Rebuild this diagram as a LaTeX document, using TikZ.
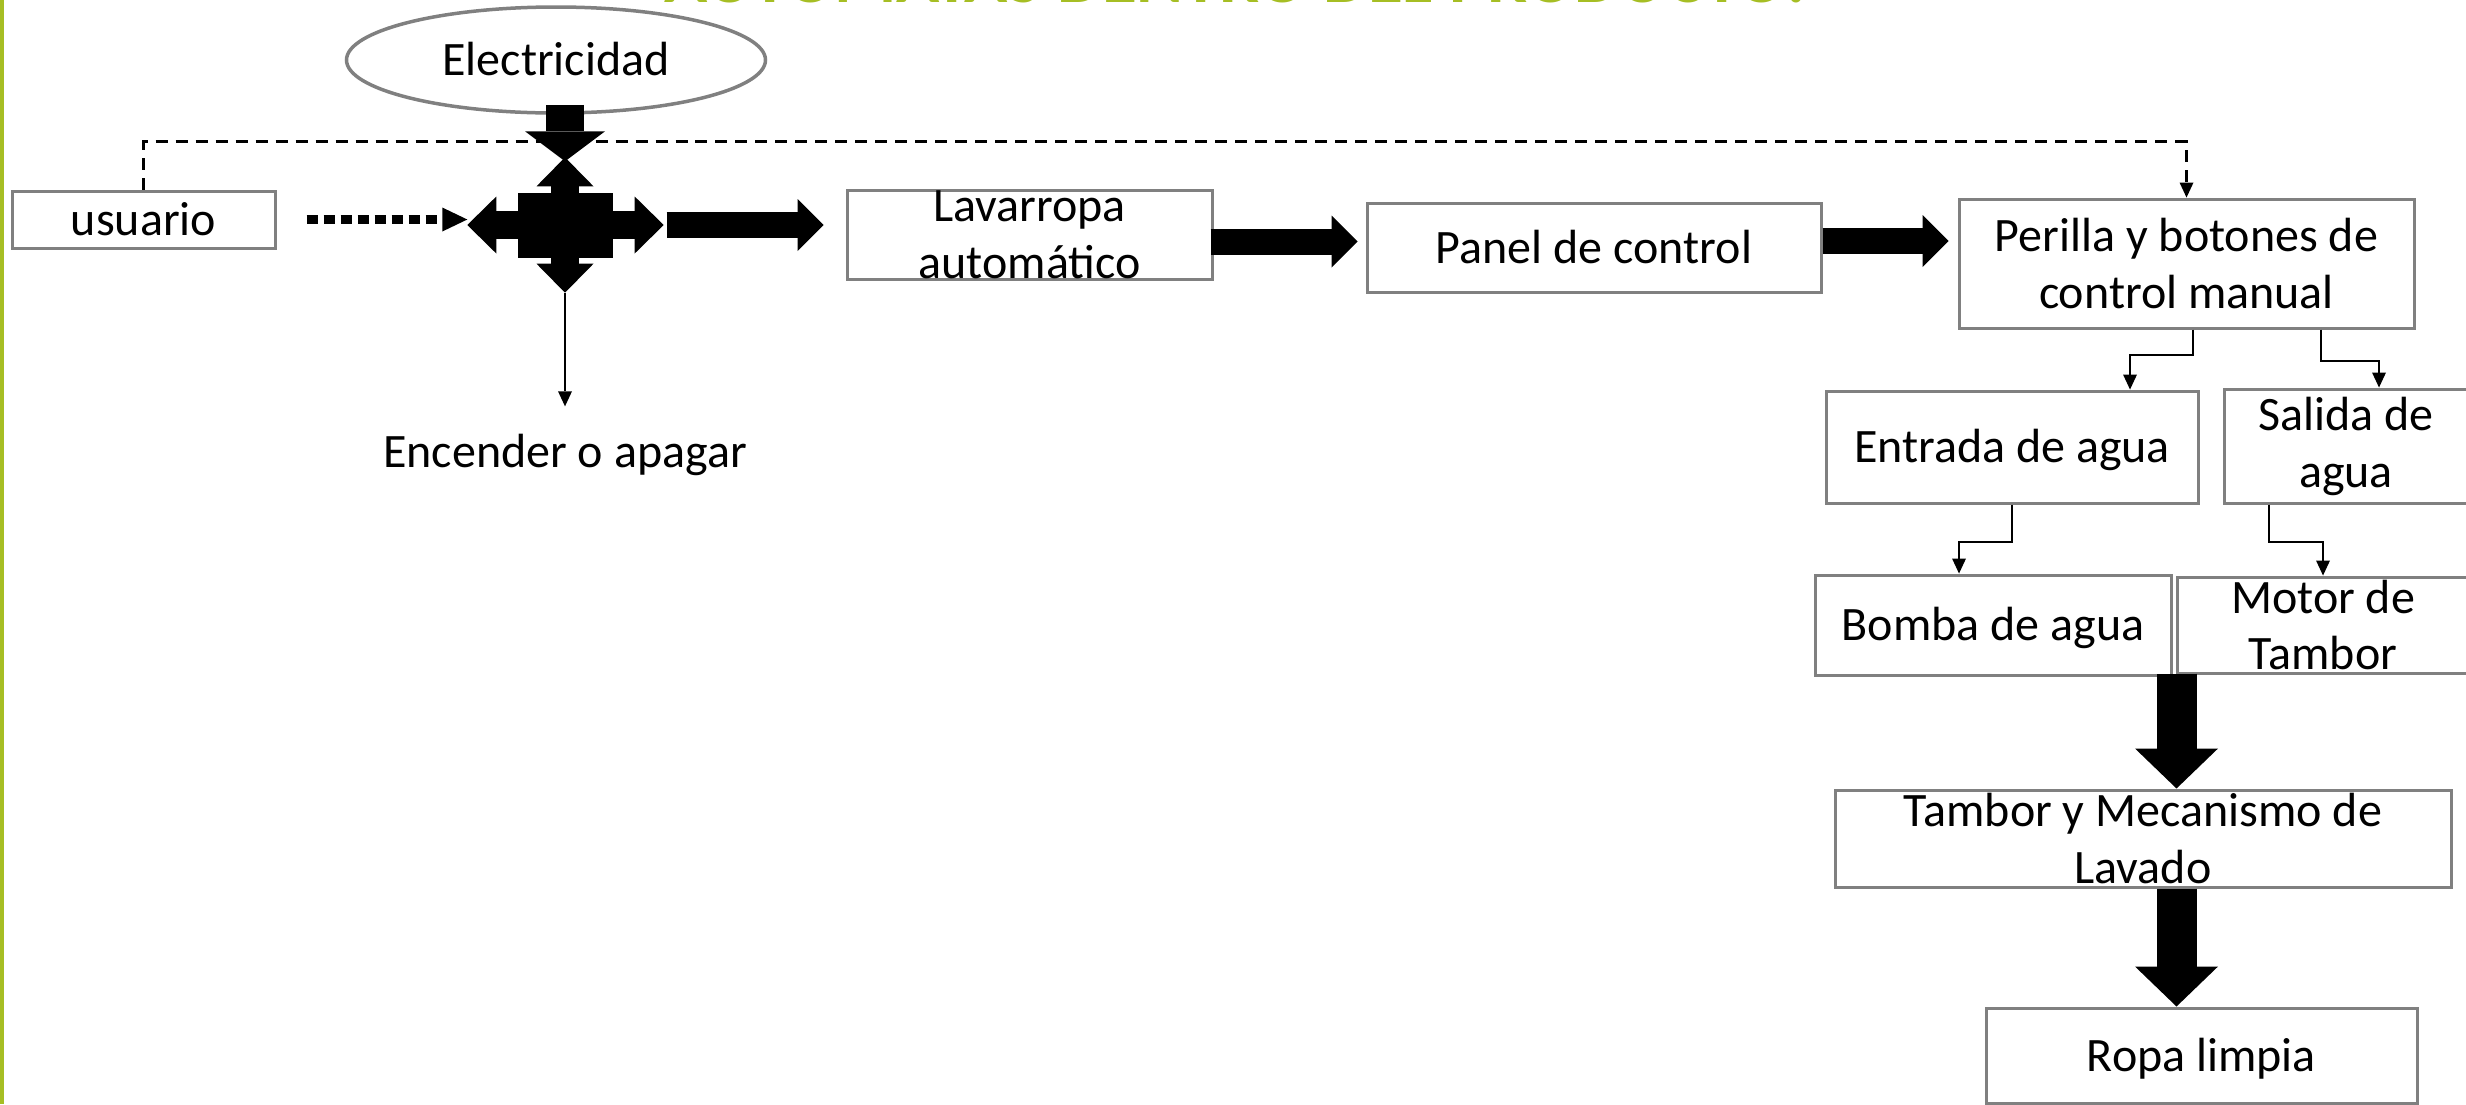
\documentclass[tikz,border=0pt]{standalone}
\usepackage{fontspec}
\setmainfont{Carlito}
\usetikzlibrary{arrows.meta,shapes.geometric}
\definecolor{slideGreen}{RGB}{166,190,36}
\definecolor{boxGray}{RGB}{128,128,128}

\tikzset{
  box/.style={draw=boxGray, line width=0.3mm, inner sep=0pt, align=center,
    font=\fontsize{13.66pt}{16.2pt}\selectfont},
  oneline/.style={text height=3.1mm, text depth=0pt},
  source/.style={ellipse, draw=boxGray, line width=0.35mm, inner sep=0pt,
    minimum width=41.9mm, minimum height=10.6mm, oneline,
    font=\fontsize{13.66pt}{16.2pt}\selectfont},
  caption/.style={inner sep=0pt, oneline, font=\fontsize{13.66pt}{16.2pt}\selectfont},
  heading/.style={text=slideGreen, inner sep=0pt,
    font=\fontsize{20.3pt}{24pt}\selectfont\bfseries},
  hub/.style={fill=black, minimum width=9.5mm, minimum height=6.5mm, inner sep=0pt},
  hubarm/.style={line width=2.8mm, -{Triangle[length=2.9mm, width=5.7mm, line width=0pt]}},
  feedarrow/.style={line width=3.8mm, -{Triangle[length=3mm, width=8mm, line width=0pt]}},
  blockarrow/.style={line width=2.6mm, -{Triangle[length=2.6mm, width=5.2mm, line width=0pt]}},
  bigarrow/.style={line width=4mm, -{Triangle[length=4mm, width=8.3mm, line width=0pt]}},
  dotarrow/.style={line width=0.85mm, dash pattern=on 1.1mm off 0.6mm,
    -{Triangle[length=2.5mm, width=2.4mm, line width=0pt]}},
  thinarrow/.style={line width=0.2mm, -{Triangle[length=1.5mm, width=1.4mm, line width=0pt]}},
  dashline/.style={thinarrow, line width=0.27mm, dash pattern=on 1.2mm off 0.8mm}
}

\begin{document}
\begin{tikzpicture}[x=0.1mm, y=-0.1mm]
\useasboundingbox (0,0) rectangle (2466,1104);

% slide edge and title (cut by the top of the page)
\fill[slideGreen] (0,0) rectangle (4,1104);
\node[heading, anchor=base] (ttl) at (1235,2.5) {AUTÓMATAS DENTRO DEL PRODUCTO:};

% power and user side
\node[source] (elec) at (556,60) {Electricidad};
\node[box, oneline, minimum width=26.3mm, minimum height=5.7mm] (usu) at (143.5,219.5) {usuario};
\node[hub] (hub) at (565,225) {};
\node[caption] (enc) at (565,452) {Encender o apagar};

% main chain
\node[box, minimum width=36.5mm, minimum height=8.9mm] (lav) at (1029.5,234.5) {Lavarropa\\automático};
\node[box, oneline, minimum width=45.4mm, minimum height=8.9mm] (pan) at (1594,247.5) {Panel de control};
\node[box, minimum width=45.5mm, minimum height=12.9mm] (peri) at (2186.5,263.5) {Perilla y botones de\\control manual};
\node[box, oneline, minimum width=37.2mm, minimum height=11.2mm] (entr) at (2012,447) {Entrada de agua};
\node[box, minimum width=24.4mm, minimum height=11.4mm] (sal) at (2346,446) {Salida de\\agua};
\node[box, oneline, minimum width=35.6mm, minimum height=10mm] (bomba) at (1993,625) {Bomba de agua};
\node[box, minimum width=29.2mm, minimum height=9.6mm] (motor) at (2323,625) {Motor de\\Tambor};
\node[box, minimum width=61.6mm, minimum height=9.7mm] (tamb) at (2143,838.5) {Tambor y Mecanismo de\\Lavado};
\node[box, oneline, minimum width=43.1mm, minimum height=9.5mm] (ropa) at (2201.5,1055.5) {Ropa limpia};

% four-way arrow
\coordinate (hubN) at ([shift={(0,-34.5)}]hub.north);
\coordinate (hubS) at ([shift={(0,34.5)}]hub.south);
\coordinate (hubW) at ([shift={(-49.5,0)}]hub.west);
\coordinate (hubE) at ([shift={(50.5,0)}]hub.east);
\draw[hubarm] (hub.center) -- (hubN);
\draw[hubarm] (hub.center) -- (hubS);
\draw[hubarm] (hub.center) -- (hubW);
\draw[hubarm] (hub.center) -- (hubE);

% connectors
\coordinate (elecfoot) at (hubN |- elec.south);
\draw[feedarrow] ([shift={(0,-10)}]elecfoot) -- ([shift={(0,4)}]hubN);
\draw[dotarrow, shorten <=3mm] (usu) -- (usu -| hubW);
\draw[thinarrow, shorten >=2.95mm] (hubS) -- (enc);
\draw[dashline] (usu.north) -- ++(0,-48) -| (peri.north);
\draw[blockarrow, shorten >=2.2mm] ([shift={(3,0)}]hubE) -- (hubE -| lav.west);
\draw[blockarrow] ([shift={(-3,7)}]lav.east) -- ([shift={(-8,-6)}]pan.west);
\draw[blockarrow] ([shift={(0,-6.5)}]pan.east) -- ([shift={(-9,-22.5)}]peri.west);
\draw[thinarrow] ([shift={(6.5,0)}]peri.south) -- ++(0,25.5) -| ([shift={(118,0)}]entr.north);
\draw[thinarrow] ([shift={(134.5,0)}]peri.south) -- ++(0,31) -| ([shift={(33,0)}]sal.north);
\draw[thinarrow] (entr.south) -- ++(0,37) -| ([shift={(-34,0)}]bomba.north);
\draw[thinarrow] ([shift={(-77,0)}]sal.south) -- ++(0,37) -| (motor.north);
\coordinate (junc) at ([shift={(4,-3)}]bomba.south east);
\draw[bigarrow] (junc) -- (junc |- tamb.north);
\draw[bigarrow] (junc |- tamb.south) -- (junc |- ropa.north);
\end{tikzpicture}
\end{document}
